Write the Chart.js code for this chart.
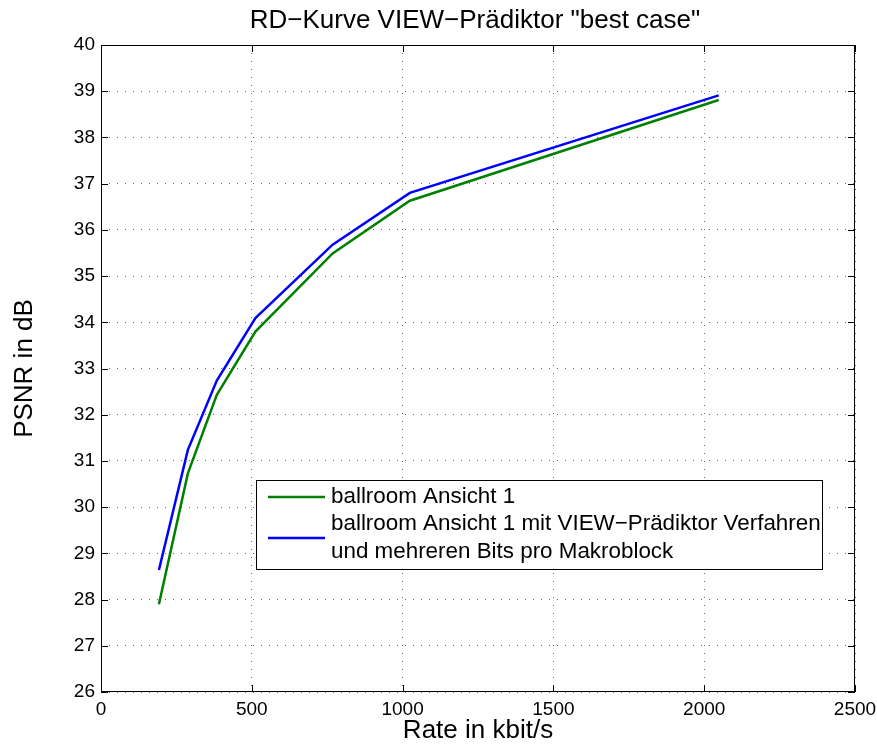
<!DOCTYPE html>
<html>
<head>
<meta charset="utf-8">
<script src="https://cdn.jsdelivr.net/npm/chart.js@4"></script>
<style>
  html, body { margin: 0; padding: 0; background: #fff; }
  canvas { display: block; }
</style>
</head>
<body>
<canvas id="rd" width="877" height="745"></canvas>
<script>
// rate in kbit/s and PSNR in dB for the two encoder runs
const rates = [192, 288, 384, 512, 768, 1024, 2048];
const psnrAnsicht1 = [27.9, 30.73, 32.43, 33.8, 35.49, 36.63, 38.81];
const psnrViewPred = [28.64, 31.24, 32.74, 34.09, 35.68, 36.8, 38.91];

const seriesLabels = [
    ["ballroom Ansicht 1"],
    ["ballroom Ansicht 1 mit VIEW\u2212Pr\u00e4diktor Verfahren", "und mehreren Bits pro Makroblock"]
];
const xTicks = [0, 500, 1000, 1500, 2000, 2500];
const yTicks = [26, 27, 28, 29, 30, 31, 32, 33, 34, 35, 36, 37, 38, 39, 40];

const FONT = '"Liberation Sans", Arial, Helvetica, sans-serif';

function points(ys) {
    return rates.map((r, i) => ({ x: r, y: ys[i] }));
}

// axes box, inward ticks, title, axis labels and legend, MATLAB style
const frame = {
    id: "frame",
    afterDraw(chart) {
        const ctx = chart.ctx;
        const a = chart.chartArea;
        const xs = chart.scales.x, ys = chart.scales.y;
        ctx.save();
        ctx.strokeStyle = "#000";
        ctx.lineWidth = 1;
        ctx.strokeRect(a.left + 0.5, a.top + 0.5, a.right - a.left - 1, a.bottom - a.top - 1);

        const tl = 7;
        ctx.beginPath();
        xTicks.forEach(v => {
            const px = Math.round(xs.getPixelForValue(v)) + 0.5;
            ctx.moveTo(px, a.bottom); ctx.lineTo(px, a.bottom - tl);
            ctx.moveTo(px, a.top); ctx.lineTo(px, a.top + tl);
        });
        yTicks.forEach(v => {
            const py = Math.round(ys.getPixelForValue(v)) + 0.5;
            ctx.moveTo(a.left, py); ctx.lineTo(a.left + tl, py);
            ctx.moveTo(a.right, py); ctx.lineTo(a.right - tl, py);
        });
        ctx.stroke();

        ctx.fillStyle = "#000";
        ctx.textAlign = "center";
        ctx.textBaseline = "middle";
        ctx.font = "26px " + FONT;
        ctx.fillText("RD\u2212Kurve VIEW\u2212Pr\u00e4diktor \"best case\"", (a.left + a.right) / 2 - 3, 21);

        ctx.font = "26px " + FONT;
        ctx.fillText("Rate in kbit/s", (a.left + a.right) / 2, 731);
        ctx.save();
        ctx.translate(25, (a.top + a.bottom) / 2);
        ctx.rotate(-Math.PI / 2);
        ctx.fillText("PSNR in dB", 0, 0);
        ctx.restore();

        // legend
        const lx = 256, ly = 480, lw = 566, lh = 89;
        ctx.fillStyle = "#fff";
        ctx.fillRect(lx, ly, lw, lh);
        ctx.strokeRect(lx + 0.5, ly + 0.5, lw, lh);
        const rowY = [497, 538];
        const lineH = 28;
        ctx.font = "22.4px " + FONT;
        ctx.textAlign = "left";
        chart.data.datasets.forEach((ds, i) => {
            const y = rowY[i];
            ctx.strokeStyle = ds.borderColor;
            ctx.lineWidth = ds.borderWidth;
            ctx.beginPath();
            ctx.moveTo(268, y); ctx.lineTo(325, y);
            ctx.stroke();
            const lines = seriesLabels[i];
            ctx.fillStyle = "#000";
            lines.forEach((t, k) => {
                ctx.fillText(t, 331, y + (k - (lines.length - 1) / 2) * lineH);
            });
        });
        ctx.restore();
    }
};

new Chart(document.getElementById("rd"), {
    type: "line",
    data: {
        datasets: [{
            label: seriesLabels[0].join(" "),
            data: points(psnrAnsicht1),
            borderColor: "#008000",
            borderWidth: 2.5,
            pointRadius: 0,
            tension: 0,
            fill: false
        }, {
            label: seriesLabels[1].join(" "),
            data: points(psnrViewPred),
            borderColor: "#0000ff",
            borderWidth: 2.5,
            pointRadius: 0,
            tension: 0,
            fill: false
        }]
    },
    options: {
        responsive: false,
        animation: false,
        events: [],
        layout: { padding: { top: 45, right: 22, bottom: 0, left: 0 } },
        plugins: {
            legend: { display: false },
            title: { display: false },
            tooltip: { enabled: false }
        },
        scales: {
            x: {
                type: "linear",
                min: 0,
                max: 2500,
                afterBuildTicks: s => { s.ticks = xTicks.map(v => ({ value: v })); },
                afterFit: s => { s.height = 53; s.paddingLeft = 0; s.paddingRight = 0; },
                ticks: {
                    color: "#000",
                    font: { family: FONT, size: 19 },
                    padding: 6,
                    maxRotation: 0,
                    callback: v => String(v)
                },
                grid: { color: "rgba(0,0,0,0.6)", lineWidth: 1, drawTicks: false },
                border: { display: false, dash: [1, 7] }
            },
            y: {
                min: 26,
                max: 40,
                afterBuildTicks: s => { s.ticks = yTicks.map(v => ({ value: v })); },
                afterFit: s => { s.width = 101; s.paddingTop = 0; s.paddingBottom = 0; },
                ticks: {
                    color: "#000",
                    font: { family: FONT, size: 19 },
                    padding: 6,
                    callback: v => String(v)
                },
                grid: { color: "rgba(0,0,0,0.6)", lineWidth: 1, drawTicks: false },
                border: { display: false, dash: [1, 7] }
            }
        }
    },
    plugins: [frame]
});
</script>
</body>
</html>
